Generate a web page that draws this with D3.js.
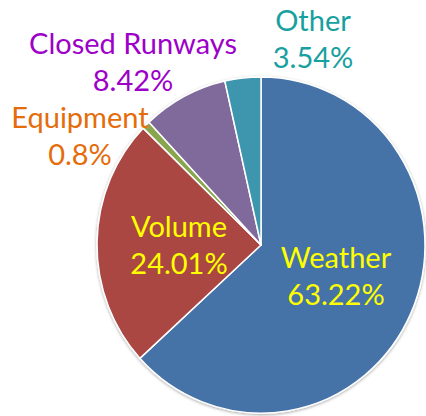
<!DOCTYPE html>
<html>
<head>
<meta charset="utf-8">
<script src="https://cdn.jsdelivr.net/npm/d3@7"></script>
<style>
  body { margin: 0; background: #fff; }
  text { font-family: Lato, "Open Sans", sans-serif; }
</style>
</head>
<body>
<div id="pie"></div>
<script>
// delay causes and their share
let causes = ['Weather', 'Volume', 'Equipment', 'Closed Runways', 'Other']
let shares = [63.22, 24.01, 0.8, 8.42, 3.54]
let sliceColors = ['#4572a7', '#aa4643', '#89a54e', '#80699b', '#3d96ae']
let labelColors = ['#ffff00', '#ffff00', '#e46c0a', '#9d00c8', '#17a0a0']

let data = causes.map((c, i) => ({cause: c, share: shares[i], fill: sliceColors[i], text: labelColors[i]}))

// label placement (two lines, centre x / first baseline)
let labelPos = {
    'Weather':        [336, 268],
    'Volume':         [179, 237],
    'Equipment':      [80, 128],
    'Closed Runways': [133, 54],
    'Other':          [313, 31]
}

let width = 426, height = 416
let cx = 261, cy = 245, radius = 164

let svg = d3.select('#pie').append('svg')
            .attr('width', width).attr('height', height)

let defs = svg.append('defs')
let shadow = defs.append('filter').attr('id', 'shadow')
    .attr('x', '-10%').attr('y', '-10%').attr('width', '120%').attr('height', '120%')
shadow.append('feDropShadow').attr('dx', 0).attr('dy', 1).attr('stdDeviation', 1.5)
    .attr('flood-color', '#000').attr('flood-opacity', 0.35)

let pie = d3.pie().sort(null).value(d => d.share)
let arc = d3.arc().innerRadius(0).outerRadius(radius)

let g = svg.append('g')
    .attr('transform', `translate(${cx},${cy}) scale(1,1.025)`)
    .attr('filter', 'url(#shadow)')

g.selectAll('path')
 .data(pie(data))
 .enter()
 .append('path')
 .attr('d', arc)
 .attr('fill', d => d.data.fill)
 .attr('stroke', '#fff')
 .attr('stroke-width', 1.5)
 .attr('stroke-linejoin', 'round')

//two-line labels
let labels = svg.selectAll('.slice-label')
    .data(data)
    .enter()
    .append('text')
    .attr('class', 'slice-label')
    .attr('text-anchor', 'middle')
    .attr('font-size', 29)
    .attr('fill', d => d.text)

labels.append('tspan')
    .attr('x', d => labelPos[d.cause][0])
    .attr('y', d => labelPos[d.cause][1])
    .text(d => d.cause)

labels.append('tspan')
    .attr('x', d => labelPos[d.cause][0])
    .attr('y', d => labelPos[d.cause][1] + 37)
    .text(d => d.share + '%')
</script>
</body>
</html>
